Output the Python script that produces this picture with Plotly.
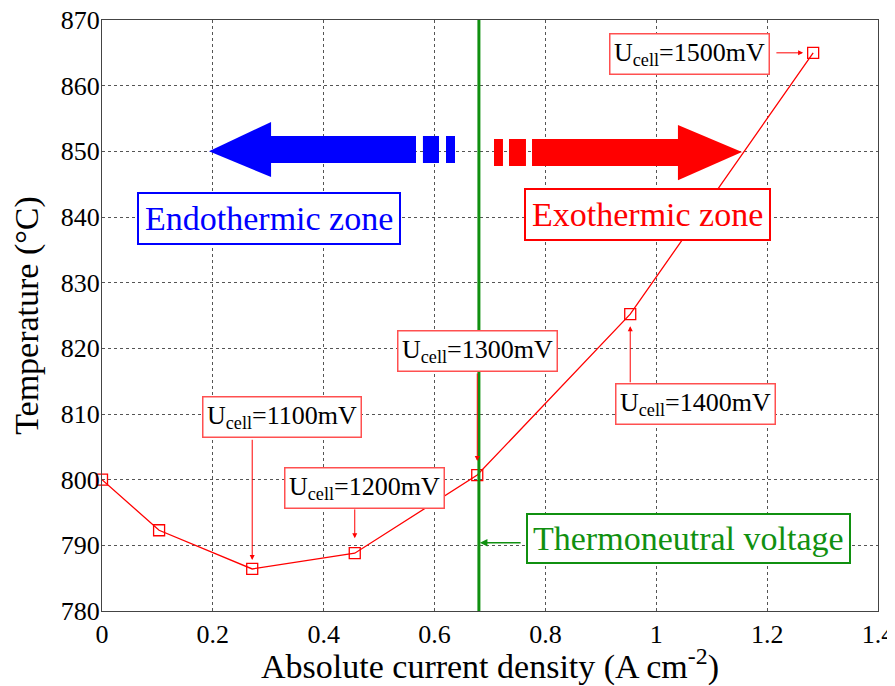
import plotly.graph_objects as go

# ---- data ----
current_density = [0.0, 0.103, 0.271, 0.456, 0.677, 0.953, 1.283]
temperature = [800.0, 792.3, 786.4, 788.8, 800.7, 825.2, 865.0]
cell_voltage_labels = ["1100", "1200", "1300", "1400", "1500"]
label_point_index = [2, 3, 4, 5, 6]
thermoneutral_x = 0.68
x_ticks = [0, 0.2, 0.4, 0.6, 0.8, 1, 1.2, 1.4]
x_tick_text = ["0", "0.2", "0.4", "0.6", "0.8", "1", "1.2", "1.4"]
y_ticks = [780, 790, 800, 810, 820, 830, 840, 850, 860, 870]

FONT = "Liberation Serif, Times New Roman, serif"
RED = "#ff0000"
BLUE = "#0000ff"
GREEN = "#109010"

fig = go.Figure()
fig.add_trace(go.Scatter(
    x=current_density, y=temperature, mode="lines+markers",
    line=dict(color=RED, width=1.3),
    marker=dict(symbol="square-open", size=11, color=RED, line=dict(width=1.3)),
    showlegend=False, cliponaxis=False))

shapes = []
# thermoneutral vertical line
shapes.append(dict(type="line", xref="x", yref="paper", x0=thermoneutral_x, x1=thermoneutral_x,
                   y0=0, y1=1, line=dict(color=GREEN, width=3)))

def rect(x0, x1, y0, y1, color):
    return dict(type="rect", xref="x", yref="y", x0=x0, x1=x1, y0=y0, y1=y1,
                fillcolor=color, line=dict(width=0), layer="above")

# big blue arrow (pointing left)
shapes.append(dict(type="path", xref="x", yref="y",
                   path="M 0.193 850 L 0.305 854.47 L 0.305 846.09 Z",
                   fillcolor=BLUE, line=dict(width=0)))
shapes.append(rect(0.304, 0.5665, 848.22, 852.34, BLUE))
shapes.append(rect(0.579, 0.608, 848.22, 852.34, BLUE))
shapes.append(rect(0.6206, 0.6369, 848.22, 852.34, BLUE))

# big red arrow (pointing right)
shapes.append(dict(type="path", xref="x", yref="y",
                   path="M 1.1546 849.9 L 1.0391 854.0 L 1.0391 845.6 Z",
                   fillcolor=RED, line=dict(width=0)))
shapes.append(rect(0.7758, 1.0401, 847.77, 851.88, RED))
shapes.append(rect(0.7072, 0.7234, 847.77, 851.88, RED))
shapes.append(rect(0.7343, 0.7649, 847.77, 851.88, RED))

annotations = []
# zone labels
annotations.append(dict(x=0.3004, y=839.8, xref="x", yref="y", text="Endothermic zone",
                        showarrow=False, font=dict(family=FONT, size=34, color=BLUE),
                        bordercolor=BLUE, borderwidth=2, borderpad=6, bgcolor="white"))
annotations.append(dict(x=0.985, y=840.4, xref="x", yref="y", text="Exothermic zone",
                        showarrow=False, font=dict(family=FONT, size=34, color=RED),
                        bordercolor=RED, borderwidth=2, borderpad=6, bgcolor="white"))
# thermoneutral label
annotations.append(dict(x=1.058, y=791.0, xref="x", yref="y", text="Thermoneutral voltage",
                        showarrow=False, font=dict(family=FONT, size=34, color=GREEN),
                        bordercolor=GREEN, borderwidth=2, borderpad=5, bgcolor="white"))
annotations.append(dict(x=thermoneutral_x, y=790.4, ax=0.758, ay=790.4, axref="x", ayref="y",
                        xref="x", yref="y", text="", showarrow=True, arrowhead=2,
                        arrowsize=1, arrowwidth=1.5, arrowcolor=GREEN, standoff=1))

# Ucell label boxes (centre positions) and arrow starts
box_x = [0.3247, 0.4736, 0.678, 1.0716, 1.060]
box_y = [809.5, 798.8, 819.6, 811.45, 864.8]
arrow_x0 = [0.271, 0.456, 0.677, 0.953, 1.214]
arrow_y0 = [806.3, 795.7, 816.4, 814.6, 865.0]
standoffs = [9, 15, 14, 12, 10]
for lab, idx, bx, by, ax0, ay0, so in zip(cell_voltage_labels, label_point_index, box_x, box_y,
                                          arrow_x0, arrow_y0, standoffs):
    annotations.append(dict(x=bx, y=by, xref="x", yref="y",
                            text=f"U<sub>cell</sub>=" + lab + "mV", showarrow=False,
                            font=dict(family=FONT, size=26, color="black"),
                            bordercolor="#ff5050", borderwidth=1.5, borderpad=3.5, bgcolor="white"))
    annotations.append(dict(x=current_density[idx], y=temperature[idx], ax=ax0, ay=ay0,
                            axref="x", ayref="y", xref="x", yref="y", text="",
                            showarrow=True, arrowhead=2, arrowsize=1, arrowwidth=1,
                            arrowcolor=RED, standoff=so))

# page body has an 8px margin, so the figure is shrunk by 8px and margins shifted
fig.update_layout(
    width=887, height=678,
    margin=dict(l=94, r=17, t=12, b=75, autoexpand=False),
    paper_bgcolor="white", plot_bgcolor="white",
    font=dict(family=FONT, color="black"),
    shapes=shapes, annotations=annotations,
    xaxis=dict(range=[0, 1.4], tickvals=x_ticks, ticktext=x_tick_text, automargin=False,
               showgrid=True, gridcolor="#555555", griddash="dot", gridwidth=1,
               showline=True, linecolor="#444444", linewidth=1, mirror=True,
               ticks="", zeroline=False, tickfont=dict(family=FONT, size=26),
               ticklabeloverflow="allow",
               title=dict(text="Absolute current density (A cm<sup>-2</sup>)",
                          font=dict(family=FONT, size=34), standoff=18)),
    yaxis=dict(range=[780, 870], tickvals=y_ticks, automargin=False,
               showgrid=True, gridcolor="#555555", griddash="dot", gridwidth=1,
               showline=True, linecolor="#444444", linewidth=1, mirror=True,
               ticks="", zeroline=False, tickfont=dict(family=FONT, size=26),
               ticklabelstandoff=-4, ticklabeloverflow="allow",
               title=dict(text="Temperature (°C)", font=dict(family=FONT, size=34))),
)

fig.write_html("out.html")
